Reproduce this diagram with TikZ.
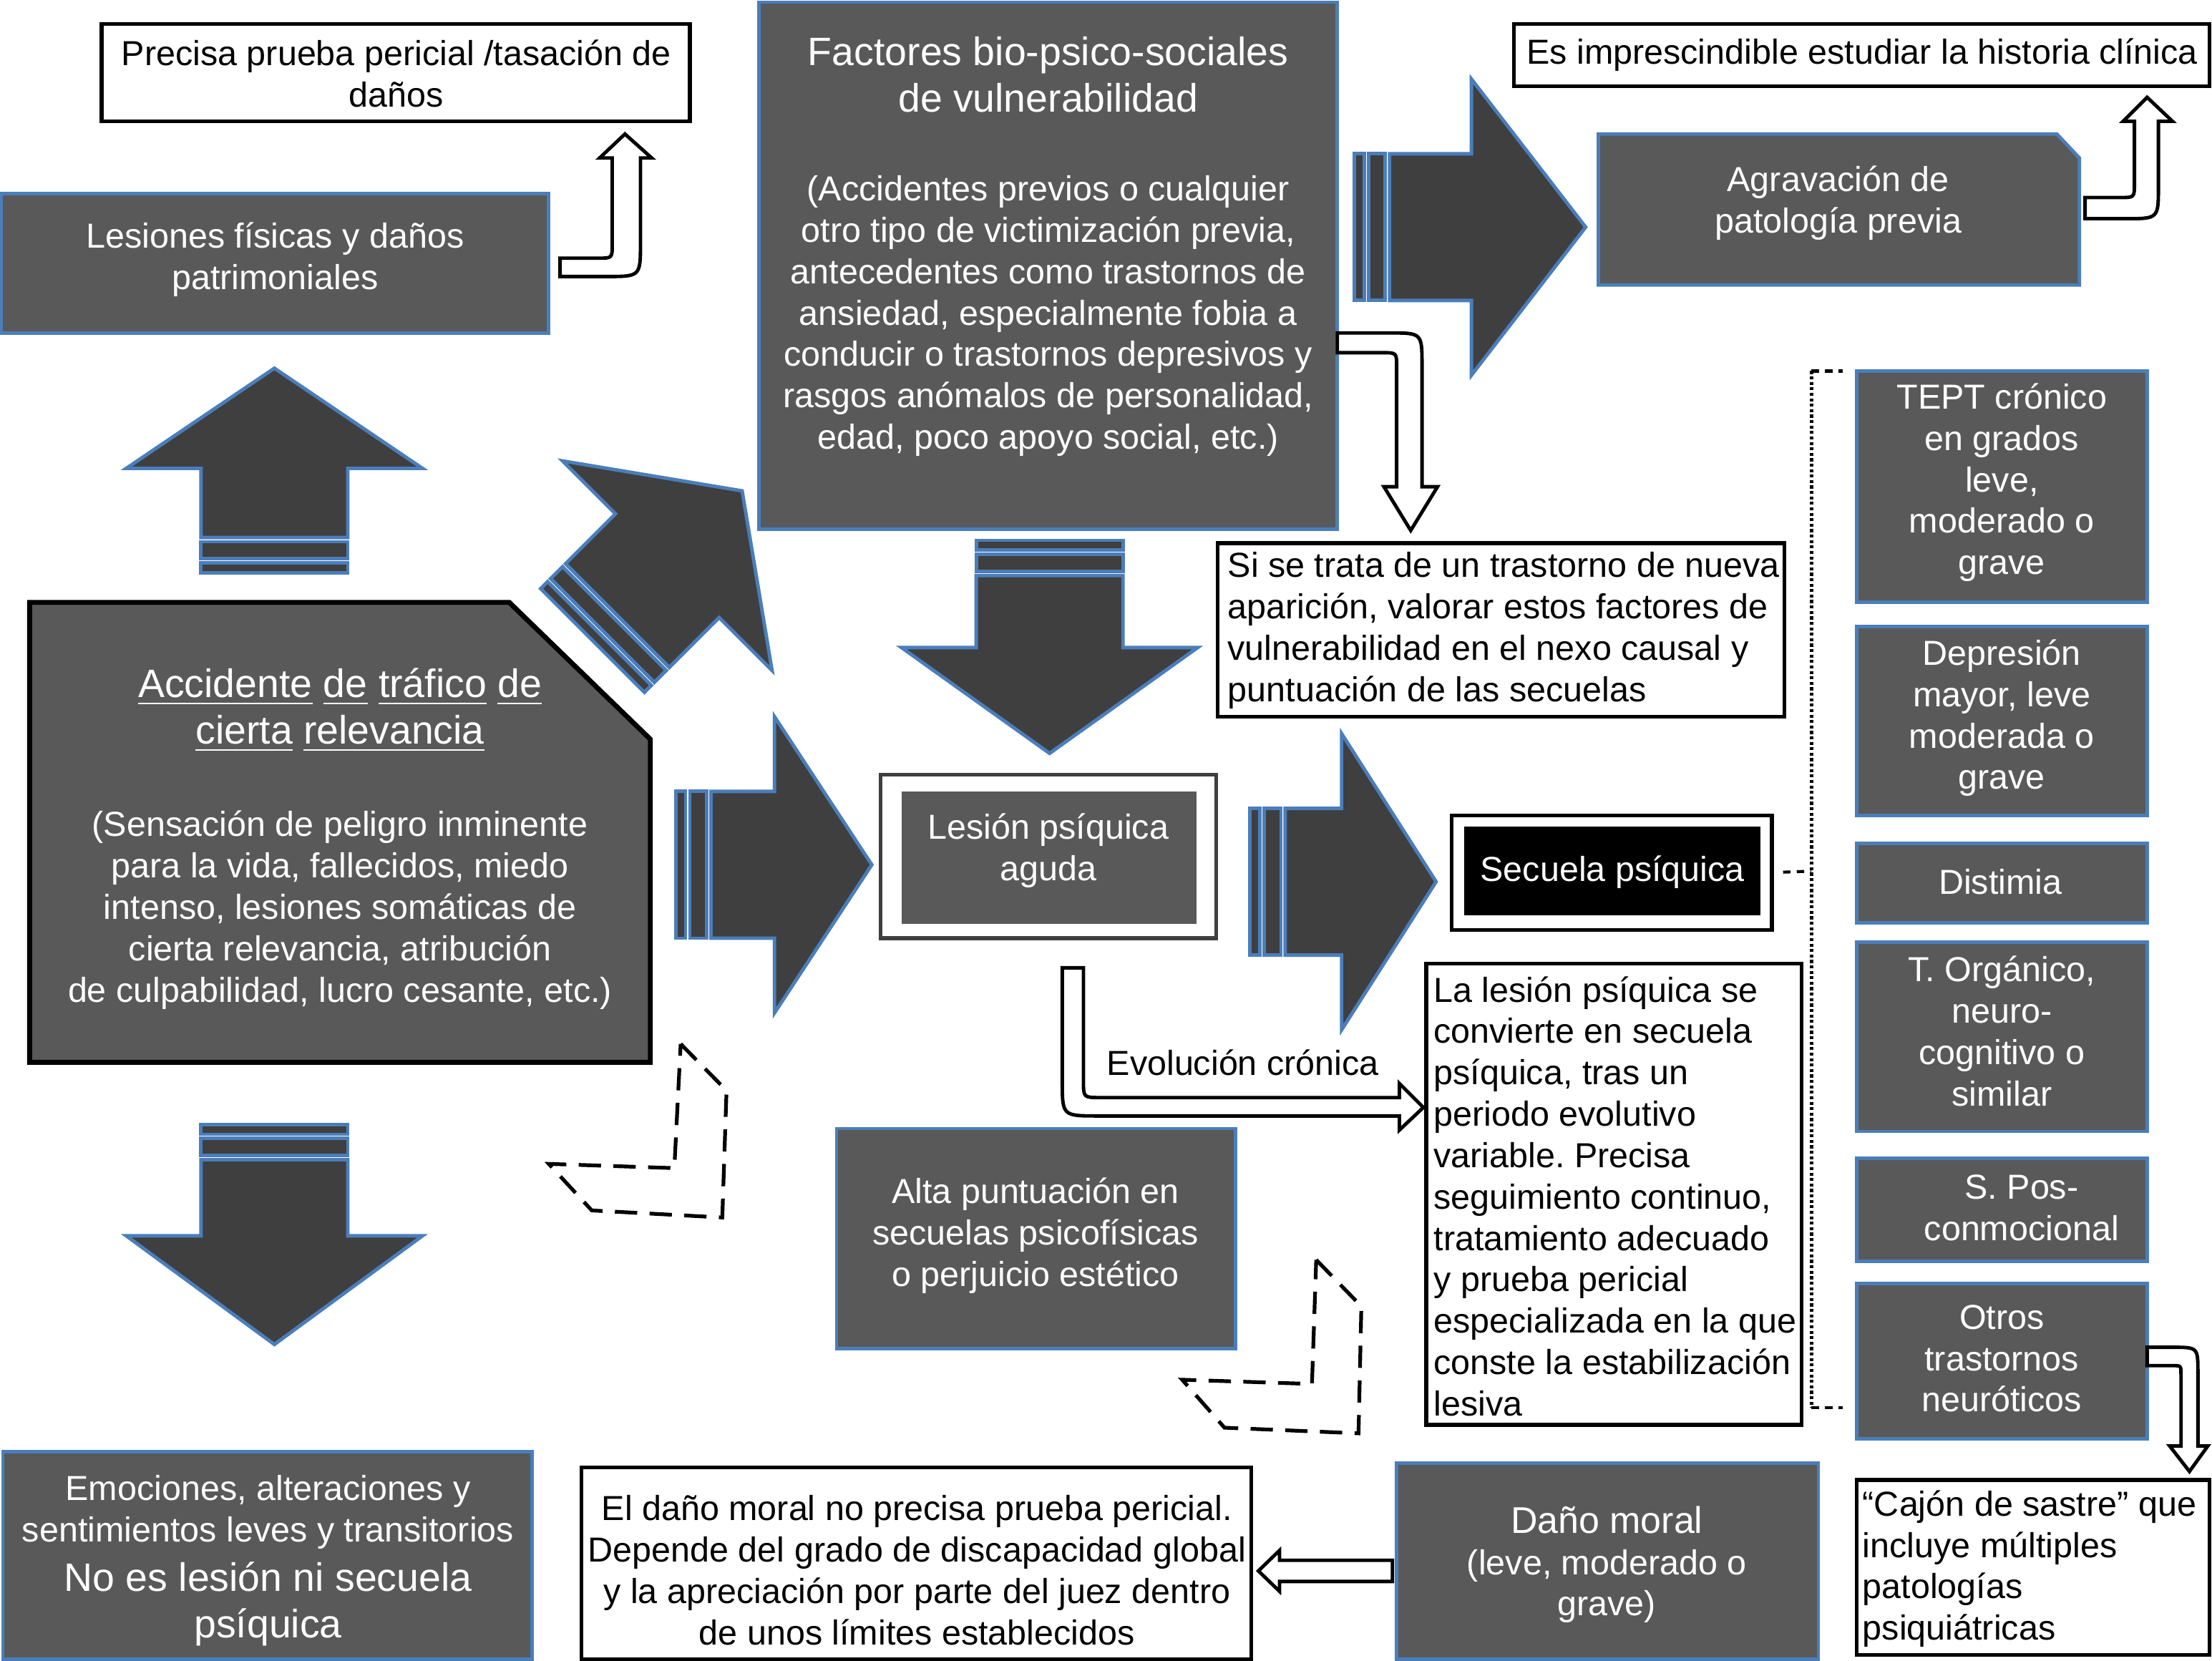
\documentclass[tikz,border=0pt]{standalone}
\usepackage{fontspec}
\setmainfont{Liberation Sans}
\frenchspacing
\definecolor{boxgray}{HTML}{595959}
\definecolor{arrgray}{HTML}{3F3F3F}
\definecolor{bblue}{HTML}{4A7EBB}
\newcommand\fs{\fontsize{14}{16.7}\selectfont}
\newcommand\fl{\fontsize{16}{18.8}\selectfont}
\newcommand\ulw[1]{\setbox0=\hbox{#1}\rlap{\rule[-2.8pt]{\wd0}{0.7pt}}\box0\relax}
\newcommand\rbox[6]{\node[#1, minimum width={(#5-#3)*0.02cm}, minimum height={(#6-#4)*0.02cm}] (#2) at ({(#3+#5)/2},{(#4+#6)/2}) {};}
\newcommand\bigarr[5]{\begin{scope}[shift={(#1,#2)}, rotate=#3]
 \filldraw[barrow] (0,-52) rectangle (7,52);
 \filldraw[barrow] (10,-52) rectangle (22,52);
 \filldraw[barrow] (25,-52) -- ({25+#4},-52) -- ({25+#4},-105) -- ({25+#4+#5},0) -- ({25+#4},105) -- ({25+#4},52) -- (25,52) -- cycle;
\end{scope}}
\begin{document}
\begin{tikzpicture}[x=0.02cm, y=-0.02cm,
  gbox/.style={draw=bblue, line width=1.4pt, fill=boxgray, inner sep=0pt, outer sep=0pt},
  wbox/.style={draw=black, line width=1.5pt, fill=white, inner sep=0pt, outer sep=0pt},
  kbox/.style={draw=none, fill=black, inner sep=0pt, outer sep=0pt},
  wtxt/.style={text=white, align=center, font=\fs, inner sep=0pt},
  btxt/.style={text=black, align=center, font=\fs, inner sep=0pt},
  ltxt/.style={text=black, align=left, anchor=west, font=\fs, inner sep=0pt},
  barrow/.style={fill=arrgray, draw=bblue, line width=1.4pt, line join=miter},
  uarrow/.style={fill=white, draw=black, line width=1.4pt, line join=miter},
  chev/.style={draw=black, line width=1.5pt, dash pattern=on 9pt off 5pt},
]
\useasboundingbox (0,0) rectangle (1568,1177);

% ---------- boxes ----------
\rbox{wbox}{precisa}{72}{17}{489}{86}
\node[btxt] (precisa-t) at (281,52) {Precisa prueba pericial /tasación de\\daños};

\rbox{gbox}{lesiones}{1}{137}{389}{236}
\node[wtxt] (lesiones-t) at (195,184) {Lesiones físicas y daños\\patrimoniales};

\rbox{gbox}{factores}{538}{1.5}{948}{375}
\node[wtxt, font=\fl] (factores-t1) at (743,53) {Factores bio-psico-sociales\\de vulnerabilidad};
\node[wtxt] (factores-t2) at (743,224) {(Accidentes previos o cualquier\\otro tipo de victimización previa,\\antecedentes como trastornos de\\ansiedad, especialmente fobia a\\conducir o trastornos depresivos y\\rasgos anómalos de personalidad,\\edad, poco apoyo social, etc.)};

\rbox{wbox}{esimp}{1073}{17}{1566}{61}
\node[btxt] (esimp-t) at (1320,39) {Es imprescindible estudiar la historia clínica};

\filldraw[gbox] (1133,95) -- (1458,95) -- (1474,112) -- (1474,202) -- (1133,202) -- cycle;
\coordinate (agrav) at (1303,148);
\node[wtxt] (agrav-t) at (1303,144) {Agravación de\\patología previa};

\rbox{wbox}{sitrata}{863}{385}{1265}{508}
\node[ltxt] (sitrata-t) at (870,447) {Si se trata de un trastorno de nueva\\aparición, valorar estos factores de\\vulnerabilidad en el nexo causal y\\puntuación de las secuelas};

\filldraw[fill=boxgray, draw=black, line width=2pt] (21,427) -- (361,427) -- (461,524) -- (461,753) -- (21,753) -- cycle;
\coordinate (accidente) at (241,590);
\node[wtxt, font=\fl] (accidente-t1) at (241,503) {\ulw{Accidente} \ulw{de} \ulw{tráfico} \ulw{de}\\\ulw{cierta} \ulw{relevancia}};
\node[wtxt] (accidente-t2) at (241,645) {(Sensación de peligro inminente\\para la vida, fallecidos, miedo\\intenso, lesiones somáticas de\\cierta relevancia, atribución\\de culpabilidad, lucro cesante, etc.)};

\rbox{wbox, draw=arrgray}{lesion-o}{624}{549}{862}{665}
\rbox{gbox, draw=none}{lesion}{639}{561}{848}{655}
\node[wtxt] (lesion-t) at (743,603) {Lesión psíquica\\aguda};

\rbox{wbox}{secuela-o}{1029}{578}{1256}{659}
\rbox{kbox}{secuela}{1038}{586}{1248}{649}
\node[wtxt] (secuela-t) at (1143,618) {Secuela psíquica};

\rbox{wbox}{lalesion}{1011}{683}{1277}{1010}
\node[ltxt] (lalesion-t) at (1016,848) {La lesión psíquica se\\convierte en secuela\\psíquica, tras un\\periodo evolutivo\\variable. Precisa\\seguimiento continuo,\\tratamiento adecuado\\y prueba pericial\\especializada en la que\\conste la estabilización\\lesiva};

\rbox{gbox}{tept}{1316}{263}{1522}{427}
\node[wtxt] (tept-t) at (1419,342) {TEPT crónico\\en grados\\leve,\\moderado o\\grave};
\rbox{gbox}{depre}{1316}{444}{1522}{578}
\node[wtxt] (depre-t) at (1419,509) {Depresión\\mayor, leve\\moderada o\\grave};
\rbox{gbox}{distimia}{1316}{598}{1522}{654}
\node[wtxt] (distimia-t) at (1418,625) {Distimia};
\rbox{gbox}{organico}{1316}{668}{1522}{802}
\node[wtxt] (organico-t) at (1419,731) {T. Orgánico,\\neuro-\\cognitivo o\\similar};
\rbox{gbox}{pos}{1316}{821}{1522}{894}
\node[wtxt] (pos-t) at (1433,856) {S. Pos-\\conmocional};
\rbox{gbox}{otros}{1316}{910}{1522}{1020}
\node[wtxt] (otros-t) at (1419,963) {Otros\\trastornos\\neuróticos};

\rbox{wbox}{cajon}{1316}{1049}{1566}{1173}
\node[ltxt] (cajon-t) at (1320,1112) {“Cajón de sastre” que\\incluye múltiples\\patologías\\psiquiátricas};

\rbox{gbox}{alta}{593}{800}{876}{956}
\node[wtxt] (alta-t) at (734,876) {Alta puntuación en\\secuelas psicofísicas\\o perjuicio estético};

\rbox{wbox}{eldano}{412}{1040}{887}{1176}
\node[btxt] (eldano-t) at (650,1113) {El daño moral no precisa prueba pericial.\\Depende del grado de discapacidad global\\y la apreciación por parte del juez dentro\\de unos límites establecidos};

\rbox{gbox}{danomoral}{990}{1037}{1289}{1176}
\node[wtxt] (danomoral-t) at (1139,1109) {{\fontsize{15}{16.7}\selectfont Daño moral}\\(leve, moderado o\\grave)};

\rbox{gbox}{emociones}{2}{1029}{377}{1176}
\node[wtxt] (emociones-t1) at (190,1072) {Emociones, alteraciones y\\sentimientos leves y transitorios};
\node[wtxt, font=\fl] (emociones-t2) at (190,1137) {No es lesión ni secuela\\psíquica};

% ---------- big block arrows ----------
\bigarr{194.5}{406}{90}{49}{71}
\bigarr{420}{454}{45}{50}{75}
\bigarr{744}{383}{-90}{51}{75}
\bigarr{479}{613}{0}{45}{69}
\bigarr{960}{161}{0}{58}{81}
\bigarr{886}{625}{0}{40}{67}
\bigarr{194.5}{797}{-90}{54}{77}

% ---------- white outlined arrows ----------
\filldraw[uarrow] (397,183) -- (424,183) .. controls (434,183) .. (434,173) -- (434,112) -- (425,112) -- (443,95) -- (462,112) -- (454,112) -- (454,172) .. controls (454,196) .. (430,196) -- (397,196) -- cycle;
\filldraw[uarrow] (1478,140) -- (1503,140) .. controls (1513,140) .. (1513,130) -- (1513,86) -- (1505,86) -- (1522,69) -- (1540,86) -- (1530,86) -- (1530,132) .. controls (1530,155) .. (1507,155) -- (1478,155) -- cycle;
\filldraw[uarrow] (948,236) -- (985,236) .. controls (1008,236) .. (1008,259) -- (1008,345) -- (1019,345) -- (1000,376) -- (981,345) -- (990,345) -- (990,260) .. controls (990,250) .. (980,250) -- (948,250) -- cycle;
\filldraw[uarrow] (1522,955) -- (1540,955) .. controls (1558,955) .. (1558,973) -- (1558,1025) -- (1565,1025) -- (1552,1043) -- (1538,1025) -- (1546,1025) -- (1546,974) .. controls (1546,968) .. (1540,968) -- (1522,968) -- cycle;
\filldraw[uarrow] (753,686) -- (768,686) -- (768,766) .. controls (768,778) .. (780,778) -- (992,778) -- (992,768) -- (1009,785) -- (992,801) -- (992,791) -- (778,791) .. controls (753,791) .. (753,766) -- cycle;
\node[btxt] (evol-t) at (881,753) {Evolución crónica};
\filldraw[uarrow] (987,1106) -- (907,1106) -- (907,1099) -- (892,1113.5) -- (907,1128) -- (907,1121) -- (987,1121) -- cycle;

% ---------- dashed shapes ----------
\draw[chev] (482.5,740) -- (515,773) -- (512,863) -- (419.5,858) -- (389,825) -- (478,828) -- cycle;
\draw[chev] (933,893) -- (965,926) -- (963,1016) -- (868,1012) -- (838,978) -- (930,981) -- cycle;

% ---------- dotted bracket ----------
\coordinate (brk) at (1284,617.5);
\draw[line width=1.5pt, dash pattern=on 1.2pt off 1pt] (1284,263) -- (1284,998);
\draw[line width=1.2pt, dash pattern=on 3pt off 2.5pt] (1284,263) -- (1306,263);
\draw[line width=1.2pt, dash pattern=on 3pt off 2.5pt] (1284,998) -- (1306,998);
\draw[line width=1.2pt, dash pattern=on 3pt off 2.5pt, shorten <=0.16cm] (secuela-o.east) -- (brk);
\end{tikzpicture}
\end{document}
